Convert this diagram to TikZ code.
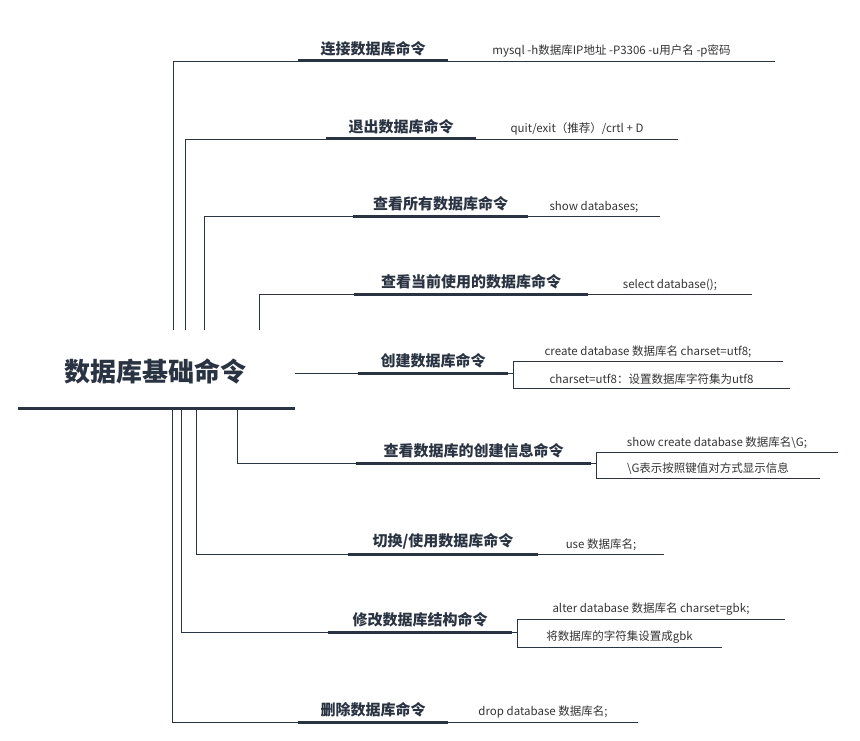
\documentclass[tikz,border=0pt]{standalone}
\usepackage{fontspec}
\setmainfont{Noto Sans CJK SC}
\usetikzlibrary{positioning, calc}
\definecolor{navy}{HTML}{2A3342}
\definecolor{ink}{HTML}{333333}

\begin{document}
\begin{tikzpicture}[
    x=1pt, y=-1pt,
    root/.style={font=\fontsize{26}{30}\selectfont\bfseries, text=navy},
    title/.style={font=\fontsize{15}{18}\selectfont\bfseries, text=navy},
    leaf/.style={font=\fontsize{11.5}{14}\selectfont, text=ink},
    bar/.style={line width=3pt, navy},
    trunk/.style={line width=0.6pt, navy}
]
\useasboundingbox (0,0) rectangle (860,741);

% root
\node[root] (root) at (155,371) {数据库基础命令};
\draw[bar] (18,408) -- (295,408);

% branches with one leaf: name/trunk x/from y/bar y/bar start/bar end/leaf end/title/leaf
\foreach \n/\tx/\ty/\y/\a/\b/\e/\t/\l in {
    conn/173/330/61/298/448/775/连接数据库命令/{mysql -h数据库IP地址 -P3306 -u用户名 -p密码},
    quit/185/330/139/326/476/678/退出数据库命令/{quit/exit（推荐）/crtl + D},
    show/204/330/216/353/528/660/查看所有数据库命令/{show databases;},
    cur/259/330/294/354/588/752/查看当前使用的数据库命令/{select database();},
    use/196/410/554/348/538/664/{切换/使用数据库命令}/{use 数据库名;},
    drop/172/410/722/298/448/638/删除数据库命令/{drop database 数据库名;}} {
    \coordinate (\n-s) at (\tx,\ty);
    \coordinate (\n-a) at (\a,\y);
    \coordinate (\n-b) at (\b,\y);
    \coordinate (\n-e) at (\e,\y);
    \node[title, above=1pt of $(\n-a)!0.5!(\n-b)$] (\n) {\t};
    \node[leaf, above=0pt of $(\n-b)!0.5!(\n-e)$] (\n-leaf) {\l};
    \draw[trunk] (\n-s) |- (\n-a);
    \draw[bar] (\n-a) -- (\n-b);
    \draw[trunk] (\n-b) -- (\n-e);
}

% branches with two leaves: name/trunk x/from y/bar y/bar start/bar end/fork x/leaf1 y/leaf1 end/leaf2 y/leaf2 end/title/leaf1/leaf2
\foreach \n/\tx/\ty/\y/\a/\b/\f/\ya/\ea/\yb/\eb/\t/\la/\lb in {
    make/295/373/373/358/508/513/361/783/388/790/创建数据库命令/{create database 数据库名 charset=utf8;}/{charset=utf8：设置数据库字符集为utf8},
    info/237/410/463/356/591/596/452/838/478/820/查看数据库的创建信息命令/{show create database 数据库名\textbackslash G;}/{\textbackslash G表示按照键值对方式显示信息},
    alter/181/410/632/328/512/517/619/785/647/722/修改数据库结构命令/{alter database 数据库名 charset=gbk;}/{将数据库的字符集设置成gbk}} {
    \coordinate (\n-s) at (\tx,\ty);
    \coordinate (\n-a) at (\a,\y);
    \coordinate (\n-b) at (\b,\y);
    \coordinate (\n-f1) at (\f,\ya);
    \coordinate (\n-e1) at (\ea,\ya);
    \coordinate (\n-f2) at (\f,\yb);
    \coordinate (\n-e2) at (\eb,\yb);
    \node[title, above=1pt of $(\n-a)!0.5!(\n-b)$] (\n) {\t};
    \node[leaf, above=0pt of $(\n-f1)!0.5!(\n-e1)$] (\n-leaf1) {\la};
    \node[leaf, above=0pt of $(\n-f2)!0.5!(\n-e2)$] (\n-leaf2) {\lb};
    \draw[trunk] (\n-s) |- (\n-a);
    \draw[bar] (\n-a) -- (\n-b);
    \draw[trunk] (\n-b) -- (\n-f1 |- \n-b);
    \draw[trunk] (\n-e1) -- (\n-f1) -- (\n-f2) -- (\n-e2);
}
\end{tikzpicture}
\end{document}
